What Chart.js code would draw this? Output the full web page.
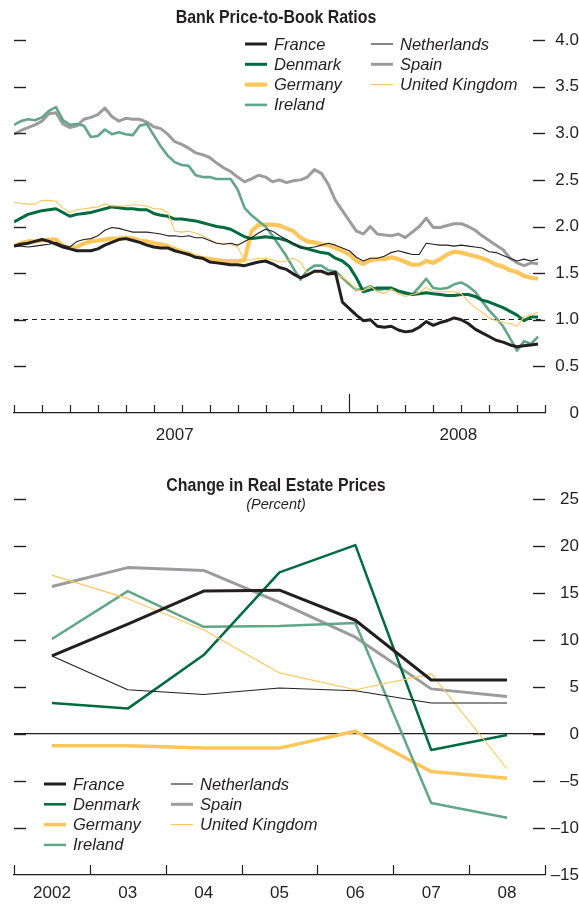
<!DOCTYPE html>
<html lang="en">
<head>
    <meta charset="UTF-8">
    <title>Bank Price-to-Book Ratios and Real Estate Prices</title>
    <script src="https://cdn.jsdelivr.net/npm/chart.js@4"></script>
    <style>
        body {
            margin: 0;
            background: #fff;
        }
        .box {
            position: relative;
            width: 579px;
        }
        #topBox { height: 450px; }
        #bottomBox { height: 455px; }
    </style>
</head>
<body>
    <div class="box" id="topBox"><canvas id="pbChart"></canvas></div>
    <div class="box" id="bottomBox"><canvas id="reChart"></canvas></div>

    <script>
        // ---- Bank price-to-book ratios, Jan 2007 - Jul 2008 (months from 1 Jan 2007) ----
        const pbMonths = [
            0, 0.25, 0.5, 0.75, 1, 1.25, 1.5, 1.75, 2, 2.25, 2.5, 2.75, 3, 3.25, 3.5, 3.75, 4, 4.25, 4.5, 4.75,
            5, 5.25, 5.5, 5.75, 6, 6.25, 6.5, 6.75, 7, 7.25, 7.5, 7.75, 8, 8.25, 8.5, 8.75, 9, 9.25, 9.5, 9.75,
            10, 10.25, 10.5, 10.75, 11, 11.25, 11.5, 11.75, 12, 12.25, 12.5, 12.75, 13, 13.25, 13.5, 13.75, 14, 14.25, 14.5, 14.75,
            15, 15.25, 15.5, 15.75, 16, 16.25, 16.5, 16.75, 17, 17.25, 17.5, 17.75, 18, 18.25, 18.5, 18.75
        ];
        const pbFrance = [
            1.79, 1.81, 1.82, 1.84, 1.86, 1.84, 1.81, 1.78, 1.76, 1.74, 1.74, 1.74, 1.76, 1.80, 1.83, 1.86, 1.87, 1.85, 1.83, 1.80,
            1.78, 1.77, 1.77, 1.74, 1.72, 1.70, 1.67, 1.66, 1.62, 1.61, 1.60, 1.59, 1.59, 1.58, 1.60, 1.62, 1.63, 1.60, 1.56, 1.54,
            1.49, 1.45, 1.48, 1.52, 1.52, 1.49, 1.51, 1.19, 1.12, 1.05, 0.99, 1.00, 0.93, 0.92, 0.93, 0.89, 0.87, 0.88, 0.92, 0.98,
            0.94, 0.97, 0.99, 1.02, 1.00, 0.96, 0.90, 0.86, 0.82, 0.78, 0.76, 0.73, 0.71, 0.72, 0.73, 0.74
        ];
        const pbNetherlands = [
            1.79, 1.79, 1.78, 1.79, 1.80, 1.81, 1.83, 1.80, 1.78, 1.84, 1.86, 1.87, 1.90, 1.96, 1.99, 1.98, 1.96, 1.94, 1.94, 1.94,
            1.93, 1.92, 1.90, 1.90, 1.89, 1.90, 1.88, 1.88, 1.85, 1.82, 1.81, 1.82, 1.80, 1.84, 1.88, 1.93, 1.97, 1.95, 1.90, 1.86,
            1.82, 1.77, 1.77, 1.78, 1.80, 1.82, 1.80, 1.77, 1.74, 1.67, 1.63, 1.66, 1.66, 1.68, 1.72, 1.74, 1.72, 1.70, 1.70, 1.82,
            1.81, 1.80, 1.80, 1.79, 1.80, 1.79, 1.78, 1.77, 1.73, 1.72, 1.69, 1.66, 1.63, 1.65, 1.63, 1.65
        ];
        const pbDenmark = [
            2.05, 2.09, 2.13, 2.15, 2.17, 2.18, 2.19, 2.15, 2.11, 2.13, 2.14, 2.15, 2.17, 2.19, 2.21, 2.20, 2.19, 2.19, 2.18, 2.18,
            2.14, 2.12, 2.11, 2.08, 2.08, 2.07, 2.06, 2.04, 2.02, 2.00, 1.99, 1.97, 1.93, 1.89, 1.87, 1.88, 1.89, 1.88, 1.87, 1.85,
            1.81, 1.78, 1.76, 1.74, 1.72, 1.71, 1.66, 1.63, 1.57, 1.45, 1.30, 1.32, 1.34, 1.34, 1.34, 1.31, 1.29, 1.27, 1.28, 1.29,
            1.28, 1.27, 1.26, 1.26, 1.27, 1.27, 1.25, 1.21, 1.19, 1.16, 1.13, 1.09, 1.05, 0.99, 1.03, 1.03
        ];
        const pbSpain = [
            2.99, 3.03, 3.06, 3.09, 3.13, 3.21, 3.22, 3.10, 3.06, 3.08, 3.15, 3.17, 3.20, 3.27, 3.18, 3.13, 3.16, 3.15, 3.15, 3.12,
            3.07, 3.05, 2.99, 2.91, 2.88, 2.84, 2.79, 2.77, 2.74, 2.68, 2.63, 2.59, 2.53, 2.48, 2.51, 2.55, 2.53, 2.48, 2.50, 2.47,
            2.49, 2.50, 2.53, 2.61, 2.57, 2.45, 2.28, 2.17, 2.06, 1.95, 1.92, 2.00, 1.92, 1.91, 1.90, 1.92, 1.88, 1.94, 2.00, 2.09,
            1.99, 1.99, 2.01, 2.03, 2.03, 2.00, 1.96, 1.90, 1.85, 1.80, 1.75, 1.66, 1.61, 1.58, 1.61, 1.60
        ];
        const pbGermany = [
            1.79, 1.82, 1.84, 1.84, 1.85, 1.86, 1.86, 1.79, 1.77, 1.78, 1.82, 1.84, 1.85, 1.86, 1.87, 1.87, 1.88, 1.87, 1.85, 1.84,
            1.82, 1.81, 1.79, 1.76, 1.73, 1.71, 1.68, 1.66, 1.65, 1.64, 1.63, 1.63, 1.63, 1.64, 1.95, 2.02, 2.02, 2.02, 2.01, 1.98,
            1.95, 1.88, 1.84, 1.83, 1.81, 1.80, 1.77, 1.74, 1.70, 1.63, 1.60, 1.64, 1.65, 1.65, 1.67, 1.65, 1.62, 1.59, 1.59, 1.63,
            1.61, 1.65, 1.70, 1.73, 1.72, 1.70, 1.68, 1.66, 1.63, 1.59, 1.57, 1.53, 1.51, 1.47, 1.45, 1.44
        ];
        const pbUK = [
            2.26, 2.25, 2.24, 2.24, 2.28, 2.28, 2.27, 2.20, 2.15, 2.18, 2.19, 2.20, 2.21, 2.24, 2.22, 2.22, 2.22, 2.23, 2.23, 2.22,
            2.19, 2.19, 2.15, 1.95, 1.94, 1.95, 1.93, 1.90, 1.86, 1.82, 1.82, 1.81, 1.78, 1.64, 1.64, 1.66, 1.66, 1.64, 1.62, 1.63,
            1.66, 1.62, 1.49, 1.51, 1.52, 1.48, 1.48, 1.46, 1.40, 1.32, 1.31, 1.36, 1.30, 1.28, 1.33, 1.28, 1.25, 1.27, 1.29, 1.35,
            1.30, 1.30, 1.30, 1.30, 1.28, 1.20, 1.13, 1.08, 1.02, 0.99, 0.97, 0.96, 0.93, 1.03, 1.05, 1.08
        ];
        const pbIreland = [
            3.09, 3.13, 3.15, 3.14, 3.17, 3.24, 3.28, 3.14, 3.09, 3.10, 3.08, 2.96, 2.97, 3.04, 2.99, 3.01, 2.99, 2.98, 3.08, 3.10,
            2.98, 2.86, 2.76, 2.69, 2.66, 2.65, 2.55, 2.53, 2.53, 2.51, 2.51, 2.51, 2.40, 2.20, 2.12, 2.06, 2.00, 1.90, 1.79, 1.68,
            1.55, 1.43, 1.53, 1.58, 1.58, 1.53, 1.52, 1.45, 1.38, 1.32, 1.33, 1.36, 1.32, 1.33, 1.33, 1.30, 1.28, 1.27, 1.35, 1.44,
            1.34, 1.33, 1.34, 1.38, 1.40, 1.36, 1.30, 1.20, 1.10, 1.02, 0.93, 0.80, 0.67, 0.77, 0.74, 0.82
        ];
        const pbMonthTicks = [0, 1, 2, 3, 4, 5, 6, 7, 8, 9, 10, 11, 12, 13, 14, 15, 16, 17, 18, 19];
        const pbYearTicks = [5.75, 15.9];
        const pbYearLabels = ['2007', '2008'];
        const pbParValue = 1.0;

        // ---- Change in real estate prices, percent ----
        const reYears = ['2002', '03', '04', '05', '06', '07', '08'];
        const reFrance = [8.3, 11.7, 15.2, 15.3, 12.1, 5.75, 5.75];
        const reDenmark = [3.3, 2.7, 8.4, 17.2, 20.1, -1.7, -0.1];
        const reGermany = [-1.25, -1.25, -1.5, -1.5, 0.3, -4.0, -4.7];
        const reIreland = [10.1, 15.2, 11.4, 11.5, 11.8, -7.35, -8.9];
        const reNetherlands = [8.3, 4.7, 4.2, 4.9, 4.6, 3.3, 3.3];
        const reSpain = [15.7, 17.7, 17.4, 14.0, 10.3, 4.8, 4.0];
        const reUK = [16.9, 14.4, 11.1, 6.5, 4.7, 6.4, -3.7];

        const legendCols = [
            ['France', 'Denmark', 'Germany', 'Ireland'],
            ['Netherlands', 'Spain', 'United Kingdom']
        ];

        // ---- styles ----
        const INK = '#231f20';
        const FONT = "'Liberation Sans', Arial, sans-serif";
        const styles = {
            'France':         { color: INK,       width: 3 },
            'Netherlands':    { color: INK,       width: 1.1 },
            'Denmark':        { color: '#006b3f', width: 3 },
            'Spain':          { color: '#9c9c9e', width: 3 },
            'Germany':        { color: '#fdc65a', width: 4 },
            'United Kingdom': { color: '#fdc65a', width: 1.1 },
            'Ireland':        { color: '#62a688', width: 2.6 }
        };
        const topStyles = { 'Germany': 4.2 };
        const bottomStyles = { 'Germany': 3.5, 'Ireland': 2.5, 'Denmark': 2.5 };

        Chart.defaults.font.family = FONT;
        Chart.defaults.color = INK;

        const line = (ctx, x1, y1, x2, y2) => {
            ctx.beginPath();
            ctx.moveTo(x1, y1);
            ctx.lineTo(x2, y2);
            ctx.stroke();
        };

        // condensed-looking heading: draw text squeezed horizontally
        const narrowText = (ctx, text, x, y, squeeze) => {
            ctx.save();
            ctx.translate(x, y);
            ctx.scale(squeeze, 1);
            ctx.fillText(text, 0, 0);
            ctx.restore();
        };

        // draws tick dashes, axis marks, titles and the two-column legend
        const makeFrame = (cfg) => ({
            id: 'frame',
            afterDatasetsDraw(chart) {
                const { ctx, chartArea: a, scales: { x, y } } = chart;
                ctx.save();
                ctx.strokeStyle = INK;
                ctx.lineWidth = 1.4;
                y.ticks.forEach(t => {
                    if (t.value === y.min) return;
                    const py = Math.round(y.getPixelForValue(t.value)) + 0.5;
                    line(ctx, a.left, py, a.left + 12, py);
                    line(ctx, a.right - 12, py, a.right, py);
                });
                ctx.lineWidth = 1.2;
                cfg.marks.forEach(m => {
                    const px = Math.round(x.getPixelForValue(m.v)) + 0.5;
                    line(ctx, px, a.bottom, px, a.bottom - m.len);
                });
                ctx.restore();
            },
            afterDraw(chart) {
                const { ctx } = chart;
                ctx.save();
                ctx.fillStyle = INK;
                ctx.textAlign = 'center';
                ctx.textBaseline = 'middle';
                ctx.font = `bold 18.5px ${FONT}`;
                narrowText(ctx, cfg.title, cfg.titleX, cfg.titleY, 0.86);
                if (cfg.subtitle) {
                    ctx.font = `italic 14.5px ${FONT}`;
                    ctx.fillText(cfg.subtitle, cfg.titleX, cfg.subtitleY);
                }
                ctx.textAlign = 'left';
                ctx.font = `italic 16.5px ${FONT}`;
                legendCols.forEach((col, c) => {
                    col.forEach((name, r) => {
                        const st = styles[name];
                        const lx = cfg.legendX[c];
                        const ly = cfg.legendY + r * 20.3;
                        ctx.strokeStyle = st.color;
                        ctx.lineWidth = (cfg.widths[name] || st.width);
                        line(ctx, lx, ly, lx + 22, ly);
                        ctx.fillText(name, lx + 29, ly + 1);
                    });
                });
                ctx.restore();
            }
        });

        const makeDataset = (name, data, widths) => ({
            label: name,
            data,
            borderColor: styles[name].color,
            borderWidth: widths[name] || styles[name].width,
            pointRadius: 0,
            tension: 0,
            fill: false,
            borderJoinStyle: 'round'
        });

        const toPoints = (values) => values.map((v, i) => ({ x: pbMonths[i], y: v }));

        // top chart
        new Chart(document.getElementById('pbChart'), {
            type: 'line',
            data: {
                datasets: [
                    makeDataset('France', toPoints(pbFrance), topStyles),
                    makeDataset('Netherlands', toPoints(pbNetherlands), topStyles),
                    makeDataset('United Kingdom', toPoints(pbUK), topStyles),
                    makeDataset('Denmark', toPoints(pbDenmark), topStyles),
                    makeDataset('Ireland', toPoints(pbIreland), topStyles),
                    makeDataset('Germany', toPoints(pbGermany), topStyles),
                    makeDataset('Spain', toPoints(pbSpain), topStyles)
                ]
            },
            options: {
                responsive: true,
                maintainAspectRatio: false,
                animation: false,
                events: [],
                layout: { padding: { top: 40, left: 14, right: 0, bottom: 0 } },
                plugins: { legend: { display: false }, tooltip: { enabled: false } },
                scales: {
                    x: {
                        type: 'linear',
                        min: 0,
                        max: 19,
                        grid: { display: false, drawTicks: false },
                        border: { display: true, color: INK, width: 1.2 },
                        afterBuildTicks: s => { s.ticks = pbYearTicks.map(v => ({ value: v })); },
                        afterFit: s => { s.height = 37; },
                        ticks: {
                            autoSkip: false,
                            maxRotation: 0,
                            padding: 12,
                            color: INK,
                            font: { size: 17 },
                            callback: (v, i) => pbYearLabels[i]
                        }
                    },
                    y: {
                        position: 'right',
                        min: 0,
                        max: 4,
                        afterFit: s => { s.width = 34; },
                        grid: {
                            drawTicks: false,
                            lineWidth: 1,
                            color: c => (c.tick && c.tick.value === pbParValue) ? INK : 'rgba(0,0,0,0)'
                        },
                        border: { display: false, dash: [5, 4] },
                        ticks: {
                            stepSize: 0.5,
                            crossAlign: 'far',
                            padding: 7,
                            color: INK,
                            font: { size: 17 },
                            callback: v => v === 0 ? '0' : v.toFixed(1)
                        }
                    }
                }
            },
            plugins: [makeFrame({
                title: 'Bank Price-to-Book Ratios',
                titleX: 276,
                titleY: 18,
                legendX: [245, 371],
                legendY: 44,
                widths: topStyles,
                marks: pbMonthTicks.map(v => ({ v, len: v === 12 ? 19 : 8 }))
            })]
        });

        // bottom chart
        new Chart(document.getElementById('reChart'), {
            type: 'line',
            data: {
                labels: reYears,
                datasets: [
                    makeDataset('France', reFrance, bottomStyles),
                    makeDataset('Netherlands', reNetherlands, bottomStyles),
                    makeDataset('United Kingdom', reUK, bottomStyles),
                    makeDataset('Denmark', reDenmark, bottomStyles),
                    makeDataset('Ireland', reIreland, bottomStyles),
                    makeDataset('Germany', reGermany, bottomStyles),
                    makeDataset('Spain', reSpain, bottomStyles)
                ]
            },
            options: {
                responsive: true,
                maintainAspectRatio: false,
                animation: false,
                events: [],
                layout: { padding: { top: 49, left: 14, right: 0, bottom: 0 } },
                plugins: { legend: { display: false }, tooltip: { enabled: false } },
                scales: {
                    x: {
                        type: 'category',
                        offset: true,
                        grid: { display: false, drawTicks: false },
                        border: { display: true, color: INK, width: 1.2 },
                        afterFit: s => { s.height = 30; },
                        ticks: {
                            autoSkip: false,
                            maxRotation: 0,
                            padding: 8,
                            color: INK,
                            font: { size: 17 }
                        }
                    },
                    y: {
                        position: 'right',
                        min: -15,
                        max: 25,
                        afterFit: s => { s.width = 34; },
                        grid: {
                            drawTicks: false,
                            lineWidth: 1.2,
                            color: c => (c.tick && c.tick.value === 0) ? INK : 'rgba(0,0,0,0)'
                        },
                        border: { display: false },
                        ticks: {
                            stepSize: 5,
                            crossAlign: 'far',
                            padding: 3,
                            color: INK,
                            font: { size: 17 },
                            callback: v => v < 0 ? '\u2013' + Math.abs(v) : String(v)
                        }
                    }
                }
            },
            plugins: [makeFrame({
                title: 'Change in Real Estate Prices',
                subtitle: '(Percent)',
                titleX: 276,
                titleY: 36,
                subtitleY: 55,
                legendX: [44, 171],
                legendY: 334,
                widths: bottomStyles,
                marks: reYears.map((_, i) => ({ v: i - 0.5, len: 10 })).concat([{ v: reYears.length - 0.5, len: 10 }])
            })]
        });
    </script>
</body>
</html>
